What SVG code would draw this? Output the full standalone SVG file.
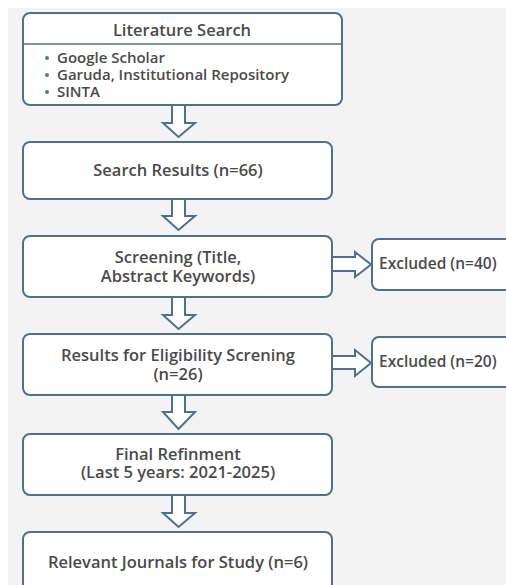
<svg xmlns="http://www.w3.org/2000/svg" width="506" height="585" viewBox="0 0 506 585">
<style>
.box{fill:#ffffff;stroke:#4f6f8f;stroke-width:2}
.arr{fill:#ffffff;stroke:#4f6f8f;stroke-width:2;stroke-linejoin:miter}
.t{font-family:"Open Sans","Liberation Sans",sans-serif;font-size:16.5px;font-weight:600;fill:#4a4a4a}
.s{font-size:15px}
.e{font-size:15.5px}
.c{text-anchor:middle}
.bul{fill:#4a78b0}
</style>
<rect x="0" y="0" width="506" height="585" fill="#ffffff"/>
<rect x="8" y="8" width="498" height="577" fill="#f3f3f3"/>
<g id="connectors">
<path class="arr" d="M172,106 V123 H163 L178.5,137 L195,123 H185 V106"/>
<path class="arr" d="M172,199 V216 H163 L178.5,230 L195,216 H185 V199"/>
<path class="arr" d="M172,297 V315 H163 L178.5,329 L195,315 H185 V297"/>
<path class="arr" d="M172,395 V412 H163 L178.5,429 L195,412 H185 V395"/>
<path class="arr" d="M172,495 V513 H163 L178.5,527 L195,513 H185 V495"/>
<path class="arr" d="M333,257 H355 V252 L371,264.5 L355,277 V271 H333"/>
<path class="arr" d="M333,356 H355 V350 L371,363 L355,376 V369 H333"/>
</g>
<g id="literature-search">
<rect class="box" x="23" y="13" width="319" height="92" rx="7"/>
<line x1="23" y1="44" x2="342" y2="44" stroke="#4f6f8f" stroke-width="1.5"/>
<text class="t c" x="182" y="36">Literature Search</text>
<circle class="bul" cx="47" cy="58" r="2"/>
<circle class="bul" cx="47" cy="75" r="2"/>
<circle class="bul" cx="47" cy="92" r="2"/>
<text class="t s" x="57" y="63">Google Scholar</text>
<text class="t s" x="57" y="80">Garuda, Institutional Repository</text>
<text class="t s" x="57" y="97">SINTA</text>
</g>
<g id="search-results">
<rect class="box" x="23" y="142" width="309" height="57" rx="7"/>
<text class="t c" x="178" y="176">Search Results (n=66)</text>
</g>
<g id="screening">
<rect class="box" x="23" y="236" width="309" height="61" rx="7"/>
<text class="t c" x="178" y="263">Screening (Title,</text>
<text class="t c" x="178" y="282">Abstract Keywords)</text>
</g>
<g id="excluded-40">
<rect class="box" x="372" y="239" width="150" height="51" rx="7"/>
<text class="t e" x="379" y="269">Excluded (n=40)</text>
</g>
<g id="eligibility">
<rect class="box" x="23" y="334" width="309" height="61" rx="7"/>
<text class="t c" x="178" y="361">Results for Eligibility Screning</text>
<text class="t c" x="178" y="380">(n=26)</text>
</g>
<g id="excluded-20">
<rect class="box" x="372" y="337" width="150" height="50" rx="7"/>
<text class="t e" x="379" y="367">Excluded (n=20)</text>
</g>
<g id="final-refinement">
<rect class="box" x="23" y="434" width="309" height="61" rx="7"/>
<text class="t c" x="178" y="460">Final Refinment</text>
<text class="t c" x="178" y="478">(Last 5 years: 2021-2025)</text>
</g>
<g id="relevant-journals">
<rect class="box" x="23" y="532" width="309" height="70" rx="7"/>
<text class="t c" x="178" y="568">Relevant Journals for Study (n=6)</text>
</g>
</svg>
